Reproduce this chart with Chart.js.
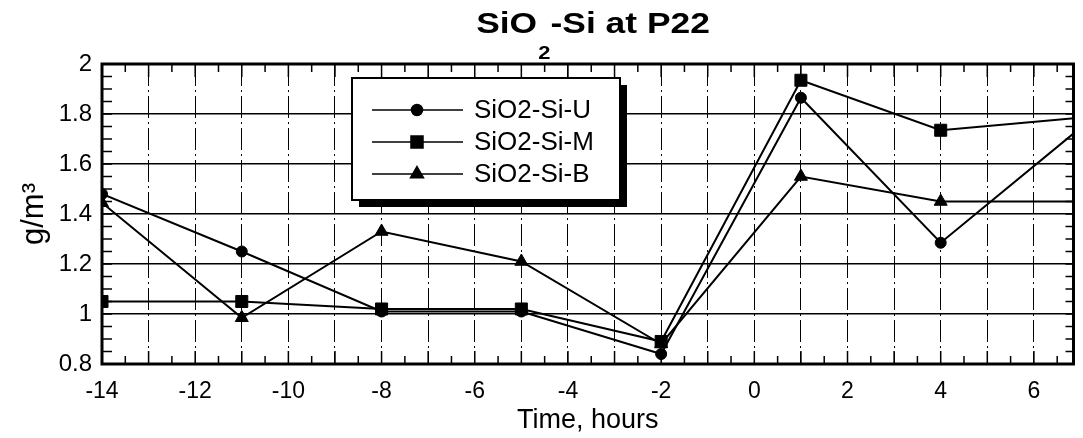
<!DOCTYPE html>
<html>
<head>
<meta charset="utf-8">
<script src="https://cdn.jsdelivr.net/npm/chart.js@4"></script>
<style>
  body { margin: 0; background: #fff; }
  #wrap { width: 1083px; height: 438px; }
</style>
</head>
<body>
<div id="wrap"><canvas id="SiChart"></canvas></div>
<script>
const hours = [-14, -11, -8, -5, -2, 1, 4, 7];
const siU = [1.48, 1.25, 1.01, 1.01, 0.84, 1.865, 1.285, 1.745];
const siM = [1.05, 1.05, 1.02, 1.02, 0.89, 1.935, 1.735, 1.785];
const siB = [1.445, 0.985, 1.33, 1.21, 0.88, 1.55, 1.45, 1.45];
const seriesNames = ['SiO2-Si-U', 'SiO2-Si-M', 'SiO2-Si-B'];
const xRange = [-14, 6.85];
const yRange = [0.8, 2];

const FONT = "'Liberation Sans', Arial, sans-serif";

const pts = vals => hours.map((h, i) => ({ x: h, y: vals[i] }));

// frame, inward tick marks and the boxed legend with a drop shadow
const framePlugin = {
  id: 'frame',
  afterDatasetsDraw(chart) {
    const { ctx, chartArea: a, scales: { x, y } } = chart;
    ctx.save();
    ctx.strokeStyle = '#000';
    ctx.lineWidth = 1.5;
    ctx.beginPath();
    for (let h = xRange[0]; h <= xRange[1]; h += 0.5) {
      const px = x.getPixelForValue(h);
      const len = Number.isInteger(h) ? 13 : 8;
      ctx.moveTo(px, a.bottom); ctx.lineTo(px, a.bottom - len);
      ctx.moveTo(px, a.top); ctx.lineTo(px, a.top + len);
    }
    for (let i = 16; i <= 40; i++) {
      const py = y.getPixelForValue(i * 0.05);
      ctx.moveTo(a.left, py); ctx.lineTo(a.left + 10, py);
      ctx.moveTo(a.right, py); ctx.lineTo(a.right - 8, py);
    }
    ctx.stroke();
    ctx.lineWidth = 3;
    ctx.strokeRect(a.left, a.top, a.right - a.left, a.bottom - a.top);

    // legend
    const bx = 352, by = 78, bw = 268, bh = 122;
    ctx.fillStyle = '#000';
    ctx.fillRect(bx + 7, by + 7, bw, bh);
    ctx.fillStyle = '#fff';
    ctx.fillRect(bx, by, bw, bh);
    ctx.lineWidth = 2;
    ctx.strokeRect(bx, by, bw, bh);
    ctx.font = '26px ' + FONT;
    ctx.textBaseline = 'middle';
    chart.data.datasets.forEach((ds, i) => {
      const ly = 110 + i * 32;
      ctx.strokeStyle = '#000';
      ctx.lineWidth = 1.5;
      ctx.beginPath();
      ctx.moveTo(372, ly); ctx.lineTo(463, ly);
      ctx.stroke();
      ctx.fillStyle = '#000';
      Chart.helpers.drawPoint(ctx, { pointStyle: ds.pointStyle, radius: ds.pointRadius, borderWidth: 1, rotation: 0 }, 417, ly);
      ctx.fillText(ds.label, 474, ly + 1);
    });
    ctx.restore();
  },
  afterDraw(chart) {
    // title with a lowered "2"
    const { ctx } = chart;
    ctx.save();
    ctx.fillStyle = '#000';
    ctx.textBaseline = 'alphabetic';
    const big = 'bold 29px ' + FONT, small = 'bold 18px ' + FONT;
    ctx.font = big;
    const w1 = ctx.measureText('SiO').width;
    const w3 = ctx.measureText('-Si at P22').width;
    ctx.font = small;
    const w2 = ctx.measureText('2').width + 1;
    ctx.translate(593, 0);
    ctx.scale(1.22, 1);
    let tx = -(w1 + w2 + w3) / 2;
    ctx.font = big;
    ctx.fillText('SiO', tx, 33);
    ctx.font = small;
    ctx.fillText('2', tx + w1 + 1, 59);
    ctx.font = big;
    ctx.fillText('-Si at P22', tx + w1 + w2, 33);
    ctx.restore();
  }
};

const ctx = document.getElementById('SiChart');
const SiChart = new Chart(ctx, {
  type: 'line',
  data: {
    datasets: [
      { label: seriesNames[0], data: pts(siU), pointStyle: 'circle', pointRadius: 5.5 },
      { label: seriesNames[1], data: pts(siM), pointStyle: 'rect', pointRadius: 8.5 },
      { label: seriesNames[2], data: pts(siB), pointStyle: 'triangle', pointRadius: 7.5 }
    ].map(ds => Object.assign(ds, {
      borderColor: '#000',
      backgroundColor: '#000',
      pointBackgroundColor: '#000',
      pointBorderColor: '#000',
      pointBorderWidth: 1,
      borderWidth: 2,
      tension: 0
    }))
  },
  options: {
    responsive: true,
    maintainAspectRatio: false,
    animation: false,
    layout: { padding: { top: 64, right: 1, left: 0, bottom: 0 } },
    plugins: {
      legend: { display: false },
      title: { display: false },
      tooltip: { enabled: false }
    },
    scales: {
      x: {
        type: 'linear',
        min: xRange[0],
        max: xRange[1],
        afterFit: s => { s.height = 74; },
        grid: { color: '#000', lineWidth: 1, drawTicks: false },
        border: { display: false, dash: [22, 4, 2, 4] },
        ticks: {
          stepSize: 1,
          includeBounds: false,
          autoSkip: false,
          maxRotation: 0,
          padding: 14,
          color: '#000',
          font: { family: FONT, size: 23 },
          callback: v => (v % 2 === 0 ? String(v) : '')
        },
        title: {
          display: true,
          text: 'Time, hours',
          color: '#000',
          font: { family: FONT, size: 27 },
          padding: { top: 0, bottom: 1 }
        }
      },
      y: {
        min: yRange[0],
        max: yRange[1],
        afterFit: s => { s.width = 102; },
        grid: { color: '#000', lineWidth: 1.5, drawTicks: false },
        border: { display: false },
        ticks: {
          stepSize: 0.2,
          padding: 10,
          color: '#000',
          font: { family: FONT, size: 24 },
          callback: v => String(+v.toFixed(1))
        },
        title: {
          display: true,
          text: 'g/m³',
          color: '#000',
          font: { family: FONT, size: 31 },
          padding: { top: 16, bottom: 0 }
        }
      }
    }
  },
  plugins: [framePlugin]
});
</script>
</body>
</html>
